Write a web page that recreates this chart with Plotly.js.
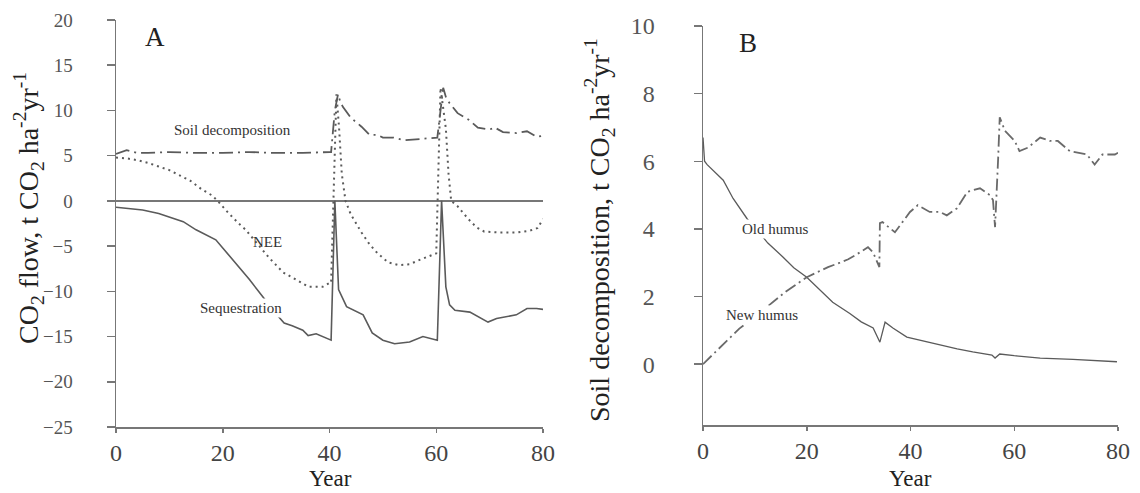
<!DOCTYPE html>
<html>
<head>
<meta charset="utf-8">
<script src="https://cdn.plot.ly/plotly-3.0.1.min.js"></script>
<style>html,body{margin:0;padding:0;background:#fff;}#chart{width:1140px;height:493px;}</style>
</head>
<body>
<div id="chart"></div>
<script>
// ---- Panel A: CO2 flows ----
const soilYears = [0,2,4,6,10,15,20,25,30,35,40,40.3,41,41.6,42,42.5,44,46,47.5,49,50,52,54,56,58.8,60.2,61,61.3,61.8,62.5,64,66,67.8,70,71,72.5,75,77,78.8,80];
const soilDecomp = [5.2,5.6,5.3,5.3,5.4,5.3,5.3,5.4,5.3,5.3,5.4,5.4,10,11.8,11,10.4,9.2,8.2,7.3,7.3,7.0,7.0,6.7,6.8,6.9,7.0,11,12.5,11.5,10.8,9.7,9.0,8.1,7.9,8.1,7.6,7.5,7.7,7.1,7.2];

const neeYears = [0,2,4,6,8,10,12,14,16,18,19.2,21,23,24.3,26,28.7,31.3,33.7,36.1,38.7,39.9,40.3,41.3,41.8,42.3,43,44,46,47.5,49,51,53,55,57,59,60,60.8,61.8,62.3,62.8,64,66,67.5,69,72,75,77.5,79,80];
const nee = [4.8,4.7,4.5,4.2,3.8,3.4,2.8,2.2,1.3,0.6,-0.1,-1.3,-2.5,-3.2,-4.4,-6.3,-7.9,-8.7,-9.5,-9.5,-9.1,-9.1,11.8,8,3,0,-1.5,-3.5,-4.8,-5.8,-6.8,-7.1,-7.0,-6.5,-6.0,-5.8,12.5,8,3,0,-0.6,-2,-2.9,-3.4,-3.5,-3.5,-3.3,-3.0,-2.0];

const seqYears = [0,2,5,8,10,12.6,15,18.7,20,21.9,25,27.5,30,31.5,33,35,36,37.5,39.9,40.3,41,41.7,43.2,46.3,48,50,52.2,55,57.5,59.7,60.2,61,61.8,62.5,63.5,66.3,69.7,71.3,75,77,78.8,80];
const sequestration = [-0.7,-0.8,-1.0,-1.4,-1.8,-2.3,-3.2,-4.3,-5.2,-6.5,-8.7,-10.6,-12.5,-13.5,-13.8,-14.3,-14.9,-14.7,-15.3,-15.4,0,-9.8,-11.7,-12.6,-14.6,-15.4,-15.8,-15.6,-15.0,-15.3,-15.4,0,-9.5,-11.5,-12.1,-12.3,-13.4,-13.0,-12.6,-11.9,-11.9,-12.0];

// ---- Panel B: soil decomposition ----
const oldYears = [0,0.3,0.8,2.7,3.9,5.8,7.7,8.5,10.5,12.5,15.4,17.5,20,22.5,25,28.3,30.5,32.8,34.1,35.1,36.6,39.3,42,45.7,49,52,55.7,56.3,57.2,60,65,71.3,75,79.8];
const oldHumus = [6.7,6.0,5.9,5.6,5.44,4.9,4.47,4.3,3.95,3.58,3.17,2.85,2.57,2.2,1.83,1.5,1.25,1.07,0.65,1.24,1.07,0.8,0.7,0.56,0.45,0.36,0.27,0.18,0.3,0.25,0.18,0.14,0.11,0.07];

const newYears = [0,2,4.2,7,10,13.3,16,20,24.1,26.4,28,30.2,31.8,32.8,34.0,34.1,34.6,37,38.5,39.9,41.4,43.7,45.7,47,48.9,51,53.4,55.3,55.9,56.3,56.9,57.2,58.2,60.1,61,62.6,65,66.9,68.4,70.7,74,75.5,77,79.4,80];
const newHumus = [0,0.3,0.65,1.05,1.4,1.8,2.15,2.57,2.87,3.0,3.1,3.3,3.46,3.3,2.87,4.17,4.2,3.9,4.2,4.5,4.7,4.5,4.5,4.4,4.6,5.1,5.2,5.0,4.85,4.05,6.1,7.3,6.9,6.6,6.3,6.4,6.7,6.6,6.6,6.3,6.2,5.9,6.2,6.2,6.25];

const yTicksA = [-25,-20,-15,-10,-5,0,5,10,15,20];
const yTicksB = [0,2,4,6,8,10];
const xTicks = [0,20,40,60,80];

const lineCol = '#5a5a5a';
const axisCol = '#777777';
const textCol = '#333333';
const serif = 'Liberation Serif, Times New Roman, serif';

const traces = [
  {x: soilYears, y: soilDecomp, xaxis:'x', yaxis:'y', mode:'lines', name:'Soil decomposition',
   line:{color:lineCol, width:1.8, dash:'14px,5px,2px,5px'}},
  {x: neeYears, y: nee, xaxis:'x', yaxis:'y', mode:'lines', name:'NEE',
   line:{color:lineCol, width:2, dash:'2px,4px'}},
  {x: seqYears, y: sequestration, xaxis:'x', yaxis:'y', mode:'lines', name:'Sequestration',
   line:{color:lineCol, width:1.6}},
  {x: oldYears, y: oldHumus, xaxis:'x2', yaxis:'y2', mode:'lines', name:'Old humus',
   line:{color:lineCol, width:1.3}},
  {x: newYears, y: newHumus, xaxis:'x2', yaxis:'y2', mode:'lines', name:'New humus',
   line:{color:'#6a6a6a', width:1.8, dash:'12px,4px,2px,4px'}}
];

const axBase = {
  showgrid:false, showline:true, linecolor:axisCol, linewidth:1.5,
  ticks:'outside', ticklen:8, tickcolor:axisCol, tickwidth:1.5,
  zeroline:false, fixedrange:true
};

const xBase = Object.assign({}, axBase, {
  range:[0,80], tickvals:xTicks, ticktext:xTicks.map(String),
  ticklen:4, tickfont:{size:24, color:'#444'}, ticklabelstandoff:0
});

const layout = {
  width:1140, height:493,
  margin:{l:0,r:0,t:0,b:0},
  paper_bgcolor:'#fff', plot_bgcolor:'#fff',
  showlegend:false,
  font:{family:serif, color:textCol},
  xaxis: Object.assign({}, xBase, {domain:[116/1140, 543/1140], anchor:'y'}),
  yaxis: Object.assign({}, axBase, {
    domain:[1-427/493, 1-20/493], range:[-25,20], anchor:'x',
    tickvals:yTicksA, ticktext:yTicksA.map(v => v<0 ? '\u2212'+Math.abs(v) : String(v)),
    tickfont:{size:19, color:'#555'}, ticklabelstandoff:30,
    zeroline:true, zerolinecolor:axisCol, zerolinewidth:1.3
  }),
  xaxis2: Object.assign({}, xBase, {domain:[703/1140, 1118/1140], anchor:'y2'}),
  yaxis2: Object.assign({}, axBase, {
    domain:[1-425/493, 1-26/493], range:[-1.8,10], anchor:'x2',
    tickvals:yTicksB, ticktext:yTicksB.map(String),
    tickfont:{size:24, color:'#555'}, ticklabelstandoff:34
  }),
  annotations:[
    {xref:'x', yref:'y', x:7.3, y:18.1, text:'A', showarrow:false, font:{size:27, color:'#222'}},
    {xref:'x', yref:'y', x:21.9, y:7.85, text:'Soil decomposition', showarrow:false, font:{size:15, color:textCol}},
    {xref:'x', yref:'y', x:28.4, y:-4.55, text:'NEE', showarrow:false, font:{size:15, color:textCol}},
    {xref:'x', yref:'y', x:23.5, y:-11.8, text:'Sequestration', showarrow:false, bgcolor:'#fff', font:{size:15, color:textCol}},
    {xref:'x2', yref:'y2', x:8.7, y:9.5, text:'B', showarrow:false, font:{size:27, color:'#222'}},
    {xref:'x2', yref:'y2', x:13.9, y:4.0, text:'Old humus', showarrow:false, bgcolor:'#fff', font:{size:15, color:textCol}},
    {xref:'x2', yref:'y2', x:11.4, y:1.45, text:'New humus', showarrow:false, bgcolor:'#fff', font:{size:15, color:textCol}},
    {xref:'paper', yref:'paper', x:330/1140, y:1-478/493, xanchor:'center', yanchor:'middle', borderpad:0,
     text:'Year', showarrow:false, font:{size:23, color:'#222'}},
    {xref:'paper', yref:'paper', x:910/1140, y:1-478/493, xanchor:'center', yanchor:'middle', borderpad:0,
     text:'Year', showarrow:false, font:{size:23, color:'#222'}},
    {xref:'paper', yref:'paper', x:28/1140, y:1-208/493, xanchor:'center', yanchor:'middle',
     text:'CO<sub>2</sub> flow, t CO<sub>2</sub> ha<sup>-2</sup>yr<sup>-1</sup>',
     textangle:-90, showarrow:false, font:{size:28, color:'#222'}},
    {xref:'paper', yref:'paper', x:600/1140, y:1-230/493, xanchor:'center', yanchor:'middle',
     text:'Soil decomposition, t CO<sub>2</sub> ha<sup>-2</sup>yr<sup>-1</sup>',
     textangle:-90, showarrow:false, font:{size:28, color:'#222'}}
  ]
};

Plotly.newPlot('chart', traces, layout, {displayModeBar:false, staticPlot:true});
</script>
</body>
</html>
